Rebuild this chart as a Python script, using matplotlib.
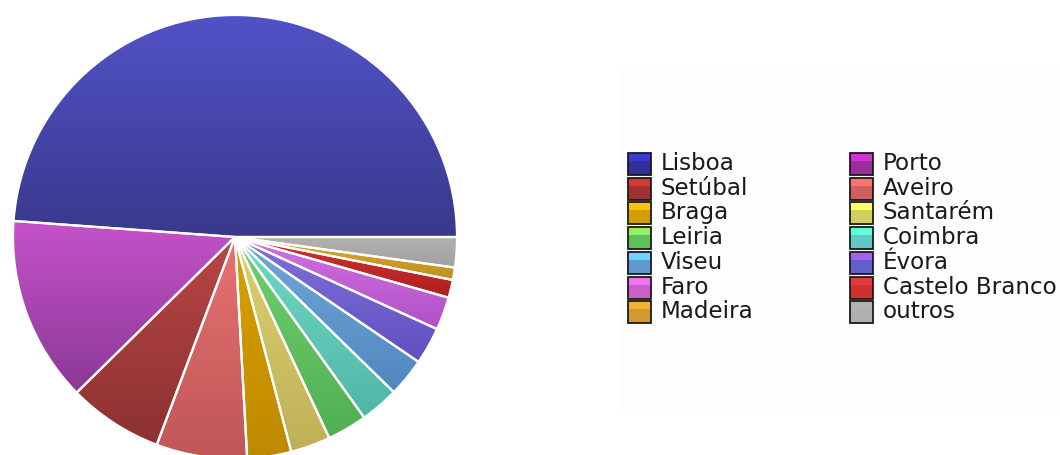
import matplotlib.pyplot as plt
import matplotlib.colors as mcolors
from matplotlib.patches import Rectangle
import numpy as np

# regions and their share of the total (percent)
regions = ['Lisboa', 'Porto', 'Setúbal', 'Aveiro', 'Braga', 'Santarém', 'Leiria',
           'Coimbra', 'Viseu', 'Évora', 'Faro', 'Castelo Branco', 'Madeira', 'outros']
shares = [48.8, 13.5, 6.9, 6.6, 3.2, 2.9, 2.9, 2.8, 2.8, 2.7, 2.4, 1.3, 0.9, 2.2]

# slice gradient: light at top, dark at bottom
slice_top = ['#5252c8', '#c552c9', '#ba4646', '#e87272', '#d9a200', '#dcd272', '#72d272',
             '#72d9c9', '#72a9d9', '#8272d9', '#d272e2', '#d23232', '#d9aa32', '#b2b2b2']
slice_bottom = ['#39398c', '#8a3996', '#8c3131', '#bf5656', '#bf8900', '#bfb056', '#50af50',
                '#50b6a6', '#5087bf', '#5f4fbf', '#af50c6', '#ad2020', '#bf9020', '#a0a0a0']

# legend swatch colours (top band / body)
swatch_top = ['#3a3ad2', '#d232d2', '#d23a3a', '#ff7272', '#f8c200', '#ffff62', '#92f262',
              '#62ffd2', '#72d2ff', '#a262f2', '#f272f2', '#e23a3a', '#f2b232', '#b2b2b2']
swatch_body = ['#30309a', '#983098', '#a03030', '#d06060', '#d0a000', '#d0d060', '#60c060',
               '#60c8c8', '#6098d0', '#6060c8', '#c860c8', '#d03030', '#d09a30', '#b0b0b0']

W, H = 1060, 455
fig = plt.figure(figsize=(W / 100, H / 100), dpi=100)
ax = fig.add_axes([0, 0, 1, 1])
ax.set_xlim(0, W)
ax.set_ylim(0, H)
ax.set_aspect('equal')
ax.axis('off')

cx, cy, r = 235, H - 237, 222

wedges, _ = ax.pie(shares, center=(cx, cy), radius=r, startangle=0, counterclock=True,
                   colors=slice_bottom,
                   wedgeprops=dict(edgecolor='white', linewidth=1.6))

# paint each slice with its own vertical gradient
for w, c0, c1 in zip(wedges, slice_top, slice_bottom):
    ext = w.get_path().get_extents()
    a = np.array(mcolors.to_rgb(c0))
    b = np.array(mcolors.to_rgb(c1))
    t = np.linspace(0, 1, 256)[:, None]
    grad = (a * (1 - t) + b * t)[:, None, :]
    im = ax.imshow(grad, extent=(ext.x0, ext.x1, ext.y0, ext.y1), origin='upper',
                   aspect='auto', zorder=1.5, interpolation='bilinear')
    im.set_clip_path(w)
    w.set_facecolor('none')
    w.set_zorder(2)

ax.set_xlim(0, W)
ax.set_ylim(0, H)

# faint legend panel
ax.add_patch(Rectangle((621, H - 410), 440, 343, facecolor='#fdfdfd', edgecolor='none', zorder=0))

# legend, two columns of seven
for i, name in enumerate(regions):
    col, row = i % 2, i // 2
    x = 628 + col * 222
    ytop = 153 + row * 24.7
    y0 = H - ytop - 22
    ax.add_patch(Rectangle((x, y0), 23, 22, facecolor=swatch_body[i], edgecolor='none', zorder=3))
    ax.add_patch(Rectangle((x, y0 + 14), 23, 8, facecolor=swatch_top[i], edgecolor='none', zorder=3))
    ax.add_patch(Rectangle((x, y0), 23, 22, facecolor='none', edgecolor='#1a1a1a', linewidth=1.3, zorder=4))
    ax.text(x + 33, y0 + 11.5, name, fontsize=16.6, color='#1a1a1a', va='center', ha='left',
            family='DejaVu Sans', zorder=4)

fig.savefig('out.png', dpi=100, facecolor='white')
